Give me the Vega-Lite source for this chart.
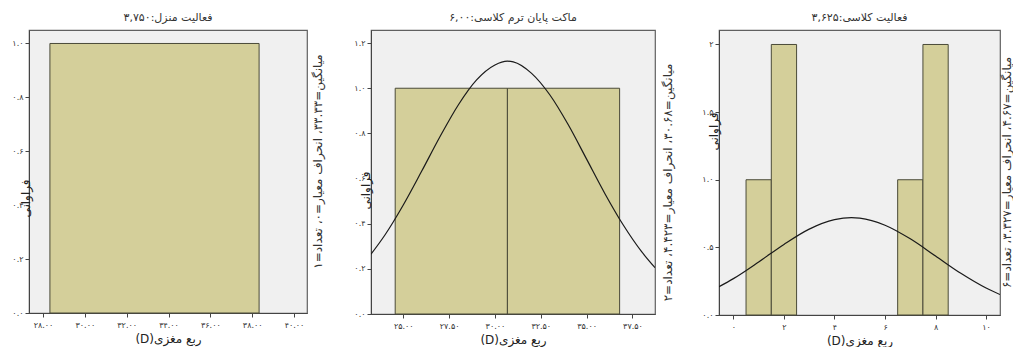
{
  "$schema": "https://vega.github.io/schema/vega-lite/v6.json",
  "background": "white",
  "padding": {"left": 11, "top": 11, "right": 0, "bottom": 0},
  "bounds": "flush",
  "spacing": 64,
  "datasets": {
    "bars1": [{"start": 28.33, "end": 38.33, "count": 1}],
    "bars2": [{"start": 24.56, "end": 30.68, "count": 1}, {"start": 30.68, "end": 36.8, "count": 1}],
    "bars3": [{"start": 0.5, "end": 1.5, "count": 1}, {"start": 1.5, "end": 2.5, "count": 2}, {"start": 6.5, "end": 7.5, "count": 1}, {"start": 7.5, "end": 8.5, "count": 2}],
    "curve2": [{"x": 23.24, "y": 0.265}, {"x": 24, "y": 0.35}, {"x": 25, "y": 0.483}, {"x": 26, "y": 0.632}, {"x": 27, "y": 0.785}, {"x": 28, "y": 0.926}, {"x": 29, "y": 1.037}, {"x": 30, "y": 1.103}, {"x": 30.68, "y": 1.12}, {"x": 31, "y": 1.117}, {"x": 32, "y": 1.066}, {"x": 33, "y": 0.97}, {"x": 34, "y": 0.838}, {"x": 35, "y": 0.686}, {"x": 36, "y": 0.533}, {"x": 37, "y": 0.394}, {"x": 38, "y": 0.276}, {"x": 38.73, "y": 0.205}],
    "curve3": [{"x": -0.57, "y": 0.209}, {"x": 0, "y": 0.269}, {"x": 1, "y": 0.392}, {"x": 2, "y": 0.522}, {"x": 3, "y": 0.635}, {"x": 4, "y": 0.705}, {"x": 4.67, "y": 0.72}, {"x": 5, "y": 0.716}, {"x": 6, "y": 0.664}, {"x": 7, "y": 0.563}, {"x": 8, "y": 0.436}, {"x": 9, "y": 0.308}, {"x": 10, "y": 0.199}, {"x": 10.55, "y": 0.151}]
  },
  "hconcat": [
    {
      "width": 278, "height": 283,
      "title": {"text": "فعالیت منزل:۳,۷۵۰"},
      "layer": [
        {
          "data": {"name": "bars1"},
          "mark": {"type": "bar", "fill": "#d4cf9a", "stroke": "#4a4a38", "strokeWidth": 1},
          "encoding": {
            "x": {"field": "start", "type": "quantitative", "scale": {"domain": [27.33, 40.62], "nice": false, "zero": false},
              "axis": {"values": [28, 30, 32, 34, 36, 38, 40], "title": "(D)ربع مغزی",
                "labelExpr": "replace(replace(replace(replace(replace(replace(replace(replace(replace(replace(format(datum.value,'.2f'),/0/g,'۰'),/1/g,'۱'),/2/g,'۲'),/3/g,'۳'),/4/g,'۴'),/5/g,'۵'),/6/g,'۶'),/7/g,'۷'),/8/g,'۸'),/9/g,'۹')"}},
            "x2": {"field": "end"},
            "y": {"field": "count", "type": "quantitative", "scale": {"domain": [0, 1.05], "nice": false},
              "axis": {"values": [0, 0.2, 0.4, 0.6, 0.8, 1], "title": "فراوانی", "titleX": -4, "titleY": 168, "titleBaseline": "middle",
                "labelExpr": "replace(replace(replace(replace(replace(replace(replace(replace(replace(replace(format(datum.value,'.1f'),/0/g,'۰'),/1/g,'۱'),/2/g,'۲'),/3/g,'۳'),/4/g,'۴'),/5/g,'۵'),/6/g,'۶'),/7/g,'۷'),/8/g,'۸'),/9/g,'۹')"}},
            "y2": {"datum": 0}
          }
        },
        {
          "data": {"name": "bars1"},
          "mark": {"type": "bar", "opacity": 0},
          "encoding": {
            "x": {"field": "start", "type": "quantitative"},
            "x2": {"field": "end"},
            "y": {"field": "count", "type": "quantitative",
              "axis": {"orient": "right", "labels": false, "ticks": false, "domain": false, "titleAngle": 270, "titleBaseline": "top", "titlePadding": 5, "titleFontSize": 12, "titleColor": "#333333", "titleY": 131,
                "title": "میانگین=۳۳.۳۳، انحراف معیار=۰، تعداد=۱"}},
            "y2": {"datum": 0}
          }
        }
      ],
      "resolve": {"axis": {"y": "independent"}}
    },
    {
      "width": 284, "height": 284,
      "title": {"text": "ماکت پایان ترم کلاسی:۶,۰۰"},
      "layer": [
        {
          "data": {"name": "bars2"},
          "mark": {"type": "bar", "fill": "#d4cf9a", "stroke": "#4a4a38", "strokeWidth": 1},
          "encoding": {
            "x": {"field": "start", "type": "quantitative", "scale": {"domain": [23.24, 38.73], "nice": false, "zero": false},
              "axis": {"values": [25, 27.5, 30, 32.5, 35, 37.5], "title": "(D)ربع مغزی",
                "labelExpr": "replace(replace(replace(replace(replace(replace(replace(replace(replace(replace(format(datum.value,'.2f'),/0/g,'۰'),/1/g,'۱'),/2/g,'۲'),/3/g,'۳'),/4/g,'۴'),/5/g,'۵'),/6/g,'۶'),/7/g,'۷'),/8/g,'۸'),/9/g,'۹')"}},
            "x2": {"field": "end"},
            "y": {"field": "count", "type": "quantitative", "scale": {"domain": [0, 1.258], "nice": false},
              "axis": {"values": [0, 0.2, 0.4, 0.6, 0.8, 1, 1.2], "title": "فراوانی", "titleX": -6, "titleY": 160, "titleBaseline": "middle",
                "labelExpr": "replace(replace(replace(replace(replace(replace(replace(replace(replace(replace(format(datum.value,'.1f'),/0/g,'۰'),/1/g,'۱'),/2/g,'۲'),/3/g,'۳'),/4/g,'۴'),/5/g,'۵'),/6/g,'۶'),/7/g,'۷'),/8/g,'۸'),/9/g,'۹')"}},
            "y2": {"datum": 0}
          }
        },
        {
          "data": {"name": "curve2"},
          "mark": {"type": "line", "color": "#1a1a1a", "strokeWidth": 1.2, "interpolate": "monotone", "clip": true},
          "encoding": {
            "x": {"field": "x", "type": "quantitative"},
            "y": {"field": "y", "type": "quantitative",
              "axis": {"orient": "right", "labels": false, "ticks": false, "domain": false, "titleAngle": 270, "titleBaseline": "top", "titlePadding": 7, "titleFontSize": 12, "titleColor": "#333333", "titleY": 152,
                "title": "میانگین=۳۰.۶۸، انحراف معیار=۴.۴۲۳، تعداد=۲"}}
          }
        }
      ],
      "resolve": {"axis": {"y": "independent"}}
    },
    {
      "width": 281, "height": 285,
      "title": {"text": "فعالیت کلاسی:۳,۶۲۵"},
      "layer": [
        {
          "data": {"name": "bars3"},
          "mark": {"type": "bar", "fill": "#d4cf9a", "stroke": "#4a4a38", "strokeWidth": 1},
          "encoding": {
            "x": {"field": "start", "type": "quantitative", "scale": {"domain": [-0.57, 10.55], "nice": false, "zero": false},
              "axis": {"values": [0, 2, 4, 6, 8, 10], "title": "(D)ربع مغزی",
                "labelExpr": "replace(replace(replace(replace(replace(replace(replace(replace(replace(replace(format(datum.value,'d'),/0/g,'۰'),/1/g,'۱'),/2/g,'۲'),/3/g,'۳'),/4/g,'۴'),/5/g,'۵'),/6/g,'۶'),/7/g,'۷'),/8/g,'۸'),/9/g,'۹')"}},
            "x2": {"field": "end"},
            "y": {"field": "count", "type": "quantitative", "scale": {"domain": [0, 2.107], "nice": false},
              "axis": {"values": [0, 0.5, 1, 1.5, 2], "title": "فراوانی", "titleX": -6, "titleY": 101, "titleBaseline": "middle",
                "labelExpr": "datum.value == 2 ? '۲' : replace(replace(replace(replace(replace(replace(format(datum.value,'.1f'),/0/g,'۰'),/1/g,'۱'),/2/g,'۲'),/5/g,'۵'),/6/g,'۶'),/8/g,'۸')"}},
            "y2": {"datum": 0}
          }
        },
        {
          "data": {"name": "curve3"},
          "mark": {"type": "line", "color": "#1a1a1a", "strokeWidth": 1.2, "interpolate": "monotone", "clip": true},
          "encoding": {
            "x": {"field": "x", "type": "quantitative"},
            "y": {"field": "y", "type": "quantitative",
              "axis": {"orient": "right", "labels": false, "ticks": false, "domain": false, "titleAngle": 270, "titleBaseline": "top", "titlePadding": 1, "titleFontSize": 12, "titleColor": "#333333", "titleY": 142,
                "title": "میانگین=۴.۶۷، انحراف معیار=۳.۳۲۷، تعداد=۶"}}
          }
        }
      ],
      "resolve": {"axis": {"y": "independent"}}
    }
  ],
  "config": {
    "font": "DejaVu Sans",
    "view": {"stroke": "#606060", "strokeWidth": 1.2, "fill": "#f0f0f0"},
    "title": {"font": "DejaVu Sans", "fontSize": 11, "fontWeight": "normal", "color": "#333333", "offset": 7},
    "axis": {"labelFont": "DejaVu Sans", "titleFont": "DejaVu Sans", "labelFontSize": 8, "titleFontSize": 12, "titleFontWeight": "normal",
      "grid": false, "tickColor": "#444444", "domainColor": "#444444", "labelColor": "#333333", "titleColor": "#222222", "tickSize": 4, "labelPadding": 2, "titlePadding": 3},
    "axisX": {"labelPadding": 4, "titlePadding": 4}
  }
}
